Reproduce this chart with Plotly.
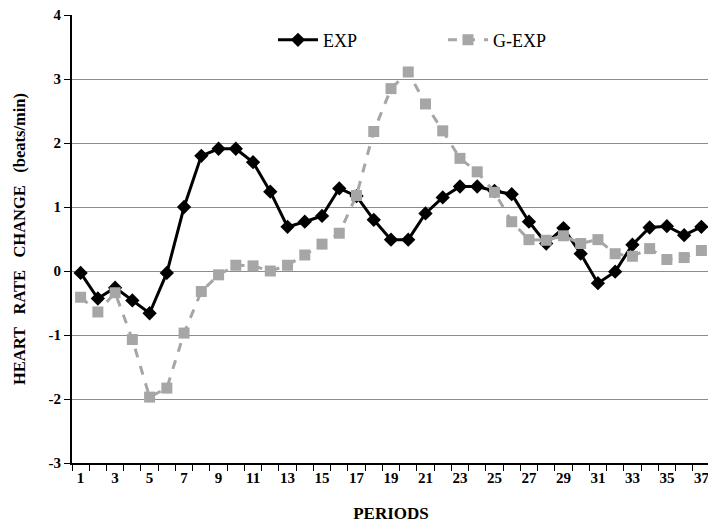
import plotly.graph_objects as go

periods = list(range(1, 38))
exp_vals = [-0.03, -0.43, -0.26, -0.46, -0.66, -0.03, 1.00, 1.80, 1.91, 1.91,
            1.70, 1.24, 0.69, 0.77, 0.86, 1.29, 1.17, 0.80, 0.49, 0.49,
            0.90, 1.15, 1.32, 1.32, 1.25, 1.20, 0.77, 0.43, 0.67, 0.27,
            -0.19, -0.01, 0.41, 0.68, 0.70, 0.56, 0.69]
gexp_vals = [-0.41, -0.64, -0.34, -1.07, -1.97, -1.83, -0.97, -0.32, -0.06, 0.09,
             0.08, 0.00, 0.09, 0.25, 0.42, 0.59, 1.18, 2.18, 2.85, 3.11,
             2.61, 2.19, 1.76, 1.55, 1.23, 0.77, 0.49, 0.48, 0.55, 0.43,
             0.49, 0.27, 0.23, 0.35, 0.18, 0.21, 0.32]
y_ticks = [-3, -2, -1, 0, 1, 2, 3, 4]
y_ticktext = [str(v) for v in y_ticks]
x_ticks = list(range(1, 38, 2))

serif = "Liberation Serif, Times New Roman, serif"
gap = "&nbsp;&nbsp;&nbsp;"

fig = go.Figure()
fig.add_trace(go.Scatter(
    x=periods, y=exp_vals, name="EXP", mode="lines+markers",
    line=dict(color="black", width=3),
    marker=dict(symbol="diamond", size=11, color="black"),
))
fig.add_trace(go.Scatter(
    x=periods, y=gexp_vals, name="G-EXP", mode="lines+markers",
    line=dict(color="#a6a6a6", width=3, dash="dash"),
    marker=dict(symbol="square", size=11, color="#a6a6a6"),
))

fig.update_layout(
    width=704, height=515,
    margin=dict(l=64, r=2, t=7, b=60, autoexpand=False),
    paper_bgcolor="white", plot_bgcolor="white",
    font=dict(family=serif, color="black", size=13),
    legend=dict(orientation="h", x=0.315, xanchor="left", y=0.944, yanchor="middle",
                font=dict(family=serif, size=18), bgcolor="rgba(0,0,0,0)",
                itemwidth=40, entrywidth=115),
    xaxis=dict(
        range=[0.5, 37.5], tickvals=x_ticks, ticks="", showgrid=False,
        showline=True, linecolor="black", linewidth=2,
        ticklabeloverflow="allow", automargin=False,
        tickfont=dict(family=serif, size=15, color="black", weight="bold"),
        minor=dict(ticks="outside", tick0=0.5, dtick=1, ticklen=6, tickcolor="black", showgrid=False),
        title=dict(text="<b>PERIODS</b>", font=dict(family=serif, size=17), standoff=27),
        zeroline=False,
    ),
    yaxis=dict(
        range=[-3, 4], tickvals=y_ticks, ticktext=y_ticktext,
        ticks="outside", ticklen=6, tickcolor="black",
        showgrid=True, gridcolor="#8c8c8c", gridwidth=1,
        showline=True, linecolor="black", linewidth=2,
        zeroline=False, ticklabeloverflow="allow", automargin=False,
        tickfont=dict(family=serif, size=15, color="black", weight="bold"),
        title=dict(text="<b>HEART" + gap + "RATE" + gap + "CHANGE" + gap + "(beats/min)</b>",
                   font=dict(family=serif, size=16.5), standoff=19),
    ),
)

fig.write_html("out.html")
